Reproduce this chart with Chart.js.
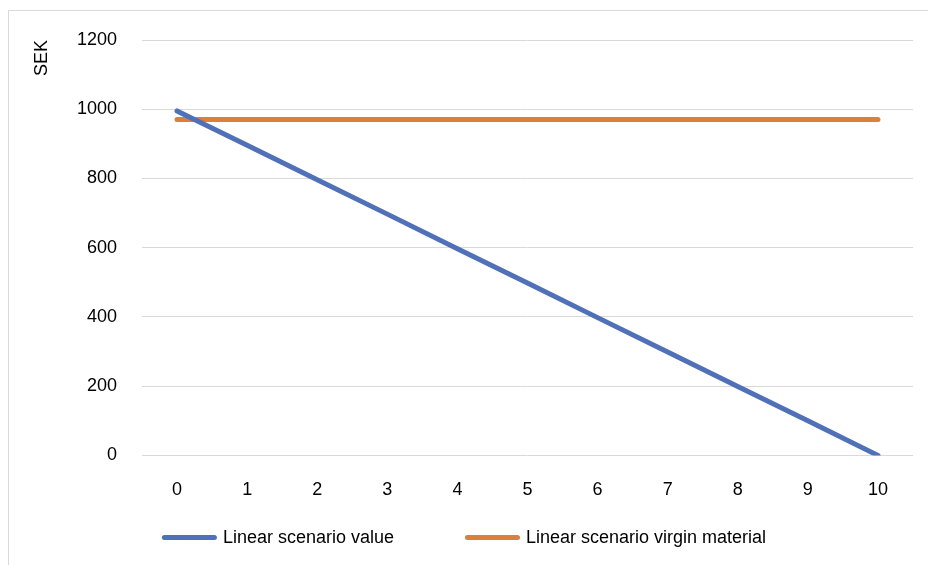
<!DOCTYPE html>
<html>
<head>
<meta charset="utf-8">
<script src="https://cdn.jsdelivr.net/npm/chart.js@4"></script>
<style>
  html, body { margin: 0; padding: 0; background: #fff; }
  #wrap { position: relative; width: 928px; height: 565px; overflow: hidden; }
  #frame { position: absolute; left: 8px; top: 10px; width: 1000px; height: 700px; border: 1px solid #d9d9d9; }
  #myChart { position: absolute; left: 0; top: 0; }
</style>
</head>
<body>
<div id="wrap">
  <div id="frame"></div>
  <canvas id="myChart" width="928" height="565"></canvas>
</div>
<script>
var years = ['0', '1', '2', '3', '4', '5', '6', '7', '8', '9', '10'];
var scenarioValue = [995, 896, 796, 697, 597, 498, 398, 299, 199, 100, 0];
var virginMaterial = [970, 970, 970, 970, 970, 970, 970, 970, 970, 970, 970];
var yTitle = 'SEK';

var FONT = '"Liberation Sans", Arial, sans-serif';
var BLUE = '#5070b8';
var ORANGE = '#d9803c';

// legend drawn as thick line + label, like the excel one
var lineLegend = {
  id: 'lineLegend',
  afterDraw: function(chart) {
    var ctx = chart.ctx;
    var sets = chart.data.datasets;
    var boxW = 55, gap = 6, itemGap = 71;
    ctx.save();
    ctx.font = '18px ' + FONT;
    var widths = sets.map(function(d) { return boxW + gap + ctx.measureText(d.label).width; });
    var total = widths.reduce(function(a, b) { return a + b; }, 0) + itemGap * (sets.length - 1);
    var x = chart.width / 2 - total / 2;
    var y = chart.chartArea.bottom + 82;
    sets.forEach(function(d, i) {
      ctx.strokeStyle = d.borderColor;
      ctx.lineWidth = 5;
      ctx.lineCap = 'round';
      ctx.beginPath();
      ctx.moveTo(x + 2.5, y);
      ctx.lineTo(x + boxW - 2.5, y);
      ctx.stroke();
      ctx.fillStyle = '#000';
      ctx.textBaseline = 'middle';
      ctx.textAlign = 'left';
      ctx.fillText(d.label, x + boxW + gap, y + 1);
      x += widths[i] + itemGap;
    });
    ctx.restore();
  }
};

var ctx = document.getElementById('myChart').getContext('2d');
var chart = new Chart(ctx, {
  type: 'line',
  data: {
    labels: years,
    datasets: [{
      label: 'Linear scenario value',
      data: scenarioValue,
      borderColor: BLUE,
      backgroundColor: BLUE,
      borderWidth: 5,
      borderCapStyle: 'round',
      pointRadius: 0,
      tension: 0
    }, {
      label: 'Linear scenario virgin material',
      data: virginMaterial,
      borderColor: ORANGE,
      backgroundColor: ORANGE,
      borderWidth: 5,
      borderCapStyle: 'round',
      pointRadius: 0,
      tension: 0
    }]
  },
  options: {
    responsive: false,
    animation: false,
    layout: { padding: { left: 8, right: 15, top: 40, bottom: 40 } },
    plugins: {
      legend: { display: false },
      tooltip: { enabled: false }
    },
    scales: {
      x: {
        offset: true,
        grid: { display: false, drawTicks: false },
        border: { display: false },
        ticks: { color: '#000', font: { family: FONT, size: 18 }, padding: 24, maxRotation: 0 }
      },
      y: {
        min: 0,
        max: 1200,
        afterFit: function(scale) { scale.width = 134; },
        grid: { color: '#d9d9d9', lineWidth: 1, drawTicks: false },
        border: { display: false },
        ticks: {
          stepSize: 200,
          color: '#000',
          font: { family: FONT, size: 18 },
          padding: 25,
          callback: function(v) { return String(v); }
        },
        title: {
          display: true,
          text: yTitle,
          align: 'end',
          color: '#000',
          font: { family: FONT, size: 18 },
          padding: { top: 23, bottom: 0 }
        }
      }
    }
  },
  plugins: [lineLegend]
});
</script>
</body>
</html>
